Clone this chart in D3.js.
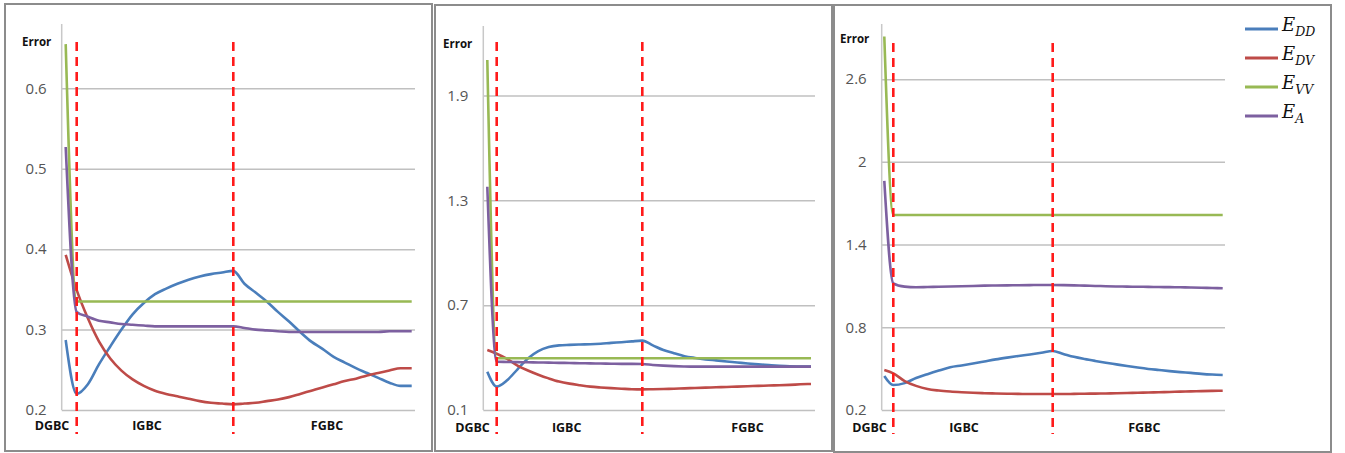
<!DOCTYPE html>
<html>
<head>
<meta charset="utf-8">
<script src="https://cdn.jsdelivr.net/npm/d3@7"></script>
<style>
  body { margin: 0; background: #fff; }
</style>
</head>
<body>
<div id="chart"></div>
<script>
// iteration index along the x axis
var steps = d3.range(32);

// phases and the indices where the dashed separators sit
var categories = ["DGBC", "IGBC", "FGBC"];
var boundaries = [1, 15];

// legend names (E + subscript)
var seriesNames = ["DD", "DV", "VV", "A"];

// panel 1
var eDD1 = [0.287,0.220,0.232,0.257,0.279,0.300,0.319,0.333,0.344,0.351,0.357,0.362,0.366,0.369,0.371,0.373,
            0.357,0.346,0.335,0.322,0.310,0.297,0.285,0.276,0.266,0.259,0.252,0.246,0.240,0.234,0.230,0.230];
var eDV1 = [0.393,0.349,0.314,0.285,0.264,0.249,0.238,0.230,0.224,0.220,0.217,0.214,0.211,0.209,0.208,0.207,
            0.208,0.209,0.211,0.213,0.216,0.220,0.224,0.228,0.232,0.236,0.239,0.243,0.246,0.249,0.252,0.252];
var eVV1 = [0.655,0.335,0.335,0.335,0.335,0.335,0.335,0.335,0.335,0.335,0.335,0.335,0.335,0.335,0.335,0.335,
            0.335,0.335,0.335,0.335,0.335,0.335,0.335,0.335,0.335,0.335,0.335,0.335,0.335,0.335,0.335,0.335];
var eA1  = [0.527,0.322,0.316,0.311,0.309,0.307,0.306,0.305,0.304,0.304,0.304,0.304,0.304,0.304,0.304,0.304,
            0.302,0.300,0.299,0.298,0.297,0.297,0.297,0.297,0.297,0.297,0.297,0.297,0.297,0.298,0.298,0.298];
var yTicks1 = [0.2, 0.3, 0.4, 0.5, 0.6];

// panel 2
var eDD2 = [0.319,0.234,0.270,0.333,0.395,0.437,0.460,0.470,0.473,0.475,0.476,0.479,0.484,0.488,0.493,0.497,
            0.470,0.443,0.425,0.408,0.398,0.390,0.384,0.378,0.372,0.366,0.361,0.357,0.353,0.350,0.349,0.348];
var eDV2 = [0.443,0.422,0.392,0.354,0.326,0.302,0.281,0.263,0.251,0.242,0.234,0.229,0.225,0.222,0.219,0.218,
            0.219,0.220,0.222,0.224,0.226,0.228,0.230,0.232,0.234,0.236,0.238,0.240,0.242,0.244,0.247,0.249];
var eVV2 = [2.103,0.396,0.396,0.396,0.396,0.396,0.396,0.396,0.396,0.396,0.396,0.396,0.396,0.396,0.396,0.396,
            0.396,0.396,0.396,0.396,0.396,0.396,0.396,0.396,0.396,0.396,0.396,0.396,0.396,0.396,0.396,0.396];
var eA2  = [1.378,0.376,0.375,0.374,0.373,0.372,0.371,0.370,0.369,0.368,0.367,0.366,0.365,0.364,0.364,0.363,
            0.358,0.354,0.351,0.349,0.348,0.348,0.348,0.348,0.348,0.348,0.348,0.348,0.348,0.348,0.348,0.348];
var yTicks2 = [0.1, 0.7, 1.3, 1.9];

// panel 3
var eDD3 = [0.447,0.381,0.395,0.432,0.460,0.486,0.510,0.523,0.537,0.552,0.567,0.580,0.592,0.603,0.615,0.628,
            0.607,0.586,0.570,0.556,0.543,0.531,0.519,0.508,0.498,0.490,0.482,0.475,0.469,0.462,0.457,0.454];
var eDV3 = [0.490,0.466,0.410,0.375,0.352,0.341,0.334,0.329,0.325,0.322,0.320,0.318,0.317,0.316,0.316,0.316,
            0.316,0.317,0.318,0.319,0.320,0.321,0.323,0.325,0.327,0.329,0.331,0.333,0.335,0.337,0.339,0.340];
var eVV3 = [2.909,1.615,1.615,1.615,1.615,1.615,1.615,1.615,1.615,1.615,1.615,1.615,1.615,1.615,1.615,1.615,
            1.615,1.615,1.615,1.615,1.615,1.615,1.615,1.615,1.615,1.615,1.615,1.615,1.615,1.615,1.615,1.615];
var eA3  = [1.862,1.119,1.095,1.090,1.092,1.094,1.096,1.098,1.100,1.102,1.103,1.104,1.105,1.106,1.107,1.107,
            1.106,1.104,1.102,1.100,1.098,1.096,1.095,1.094,1.093,1.092,1.091,1.090,1.089,1.087,1.085,1.083];
var yTicks3 = [0.2, 0.8, 1.4, 2, 2.6];

var colors = ["#4a7ebb", "#be4b48", "#98b954", "#7d60a0"];

var w = 1345;
var h = 453;

// layout of the three panels (pixels)
var panels = [
    { series: [eDD1, eDV1, eVV1, eA1], ticks: yTicks1, yMin: 0.2, yMax: 0.68,
      frame: [5, 4, 432, 451], axisX: 61.7, gridEnd: 415, top: 24, bottom: 410,
      xs: [65.7, 76.7, 233.3, 411.7], errorX: 22, errorY: 46,
      dashTop: 42, dashBottom: 434, labelX: [52, 147, 327], labelY: 430 },
    { series: [eDD2, eDV2, eVV2, eA2], ticks: yTicks2, yMin: 0.1, yMax: 2.298,
      frame: [435, 5, 832, 451], axisX: 483.3, gridEnd: 815, top: 26, bottom: 410,
      xs: [487.3, 496.7, 642.3, 811], errorX: 443, errorY: 48,
      dashTop: 42, dashBottom: 434, labelX: [472.5, 566.7, 747.5], labelY: 432 },
    { series: [eDD3, eDV3, eVV3, eA3], ticks: yTicks3, yMin: 0.2, yMax: 3.0,
      frame: [834, 5, 1331, 452], axisX: 881.7, gridEnd: 1225, top: 24, bottom: 410,
      xs: [884.3, 893.3, 1052.7, 1222.7], errorX: 840, errorY: 43,
      dashTop: 43, dashBottom: 434, labelX: [869.5, 964, 1144.3], labelY: 432 }
];

var svg = d3.select("#chart")
    .append("svg")
    .attr("width", w)
    .attr("height", h)
    .style("display", "block");

panels.forEach(function (p) {
    var g = svg.append("g");

    // frame
    g.append("rect")
        .attr("x", p.frame[0])
        .attr("y", p.frame[1])
        .attr("width", p.frame[2] - p.frame[0])
        .attr("height", p.frame[3] - p.frame[1])
        .attr("fill", "#fff")
        .attr("stroke", "#8c8c8c")
        .attr("stroke-width", 2);

    var x = d3.scaleLinear()
        .domain([0, boundaries[0], boundaries[1], steps.length - 1])
        .range(p.xs);

    var y = d3.scaleLinear()
        .domain([p.yMin, p.yMax])
        .range([p.bottom, p.top]);

    // gridlines + tick labels
    var axis = g.append("g")
        .attr("transform", "translate(" + p.axisX + ",0)")
        .call(d3.axisLeft(y)
            .tickValues(p.ticks)
            .tickFormat(function (d) { return String(d); })
            .tickSize(-(p.gridEnd - p.axisX))
            .tickPadding(15));
    axis.select(".domain").remove();
    axis.selectAll(".tick line")
        .attr("stroke", "#c0c0c0")
        .attr("stroke-width", 1.5);
    axis.selectAll(".tick text")
        .attr("fill", "#555")
        .style("font-family", "'Open Sans', sans-serif")
        .style("font-size", "15px");

    // vertical axis line
    g.append("line")
        .attr("x1", p.axisX).attr("x2", p.axisX)
        .attr("y1", p.top).attr("y2", p.bottom)
        .attr("stroke", "#c8c8c8")
        .attr("stroke-width", 1.5);

    g.append("text")
        .attr("x", p.errorX)
        .attr("y", p.errorY)
        .style("font-family", "'Open Sans', sans-serif")
        .style("font-size", "11.5px")
        .style("font-weight", "bold")
        .attr("fill", "#111")
        .text("Error");

    // series
    var line = d3.line()
        .curve(d3.curveMonotoneX)
        .x(function (d, i) { return x(steps[i]); })
        .y(function (d) { return y(d); });

    p.series.forEach(function (s, k) {
        g.append("path")
            .datum(s)
            .attr("fill", "none")
            .attr("stroke", colors[k])
            .attr("stroke-width", 2.6)
            .attr("stroke-linejoin", "round")
            .attr("d", line);
    });

    // dashed separators
    g.selectAll(".sep")
        .data(boundaries)
        .enter()
        .append("line")
        .attr("x1", function (d) { return x(d); })
        .attr("x2", function (d) { return x(d); })
        .attr("y1", p.dashTop)
        .attr("y2", p.dashBottom)
        .attr("stroke", "#ff1a1a")
        .attr("stroke-width", 2.6)
        .attr("stroke-dasharray", "9,6");

    // phase labels
    g.selectAll(".cat")
        .data(categories)
        .enter()
        .append("text")
        .attr("x", function (d, i) { return p.labelX[i]; })
        .attr("y", p.labelY)
        .attr("text-anchor", "middle")
        .style("font-family", "'Open Sans', sans-serif")
        .style("font-size", "12.5px")
        .style("font-weight", "bold")
        .attr("fill", "#111")
        .text(function (d) { return d; });
});

// legend
var legend = svg.append("g");
seriesNames.forEach(function (name, k) {
    var ly = 29 + k * 29;
    legend.append("line")
        .attr("x1", 1245).attr("x2", 1278)
        .attr("y1", ly).attr("y2", ly)
        .attr("stroke", colors[k])
        .attr("stroke-width", 3);
    var t = legend.append("text")
        .attr("x", 1282)
        .attr("y", ly + 2)
        .style("font-family", "'DejaVu Serif', serif")
        .style("font-style", "italic")
        .attr("fill", "#111");
    t.append("tspan")
        .style("font-size", "18px")
        .text("E");
    t.append("tspan")
        .attr("dy", 5)
        .style("font-size", "12.5px")
        .text(name);
});
</script>
</body>
</html>
